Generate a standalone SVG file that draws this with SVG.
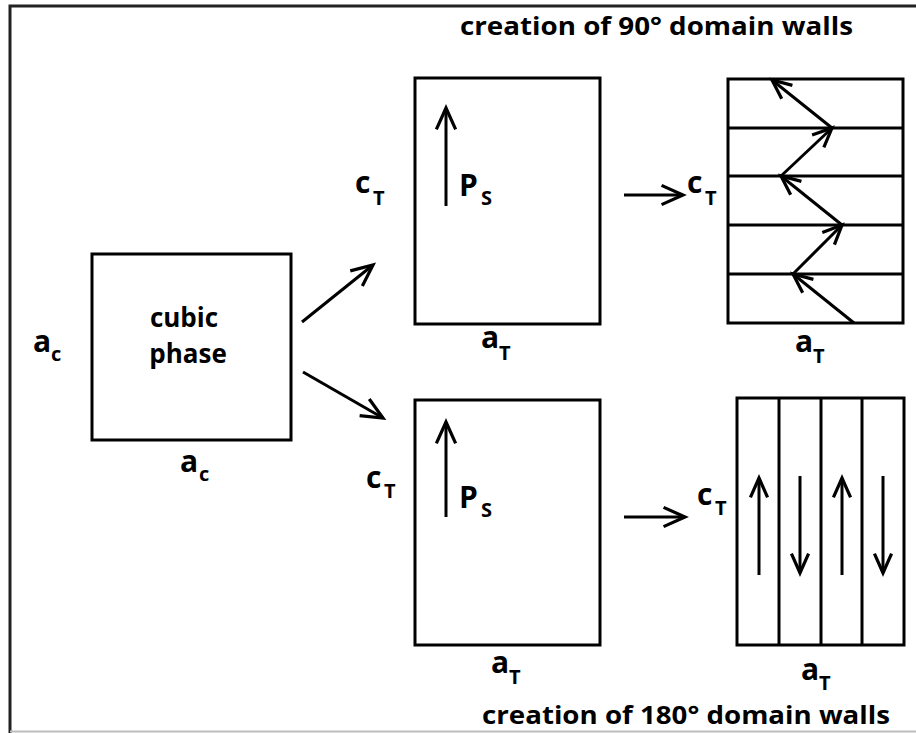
<svg xmlns="http://www.w3.org/2000/svg" width="916" height="733" viewBox="0 0 916 733">
<defs>
<marker id="ah" markerUnits="userSpaceOnUse" markerWidth="30" markerHeight="30" viewBox="-24 -12 28 24" refX="0" refY="0" orient="auto">
<path d="M-20,-9 L0,0 L-20,9" fill="none" stroke="#000" stroke-width="3" stroke-linejoin="miter"/>
</marker>
<marker id="ahs" markerUnits="userSpaceOnUse" markerWidth="30" markerHeight="30" viewBox="-24 -12 28 24" refX="0" refY="0" orient="auto">
<path d="M-18,-8 L0,0 L-18,8" fill="none" stroke="#000" stroke-width="3" stroke-linejoin="miter"/>
</marker>
</defs>
<style>
.box{fill:#fff;stroke:#000;stroke-width:3}
.ln{stroke:#000;stroke-width:3;fill:none}
.arr{stroke:#000;stroke-width:3;fill:none;marker-end:url(#ah)}
.arrs{stroke:#000;stroke-width:3;fill:none;marker-end:url(#ahs)}
text{font-family:"Open Sans","Liberation Sans",sans-serif;font-weight:bold;fill:#000}
.lb{font-size:30px}
.sb{font-size:20px}
.tt{font-size:25px}
.cp{font-size:26px}
</style>
<rect width="916" height="733" fill="#fff"/>
<g id="frame">
<path d="M10,733 L10,6 L916,6" fill="none" stroke="#222" stroke-width="3"/>
<line x1="10" y1="731.5" x2="916" y2="731.5" stroke="#bdbdbd" stroke-width="2"/>
</g>
<g id="title-top"><text class="tt" x="460" y="35" textLength="393" lengthAdjust="spacingAndGlyphs">creation of 90° domain walls</text></g>
<g id="title-bottom"><text class="tt" x="482" y="724" textLength="408" lengthAdjust="spacingAndGlyphs">creation of 180° domain walls</text></g>

<g id="cubic">
<rect class="box" x="92" y="254" width="199" height="186"/>
<text class="cp" x="184" y="327" text-anchor="middle">cubic</text>
<text class="cp" x="188" y="363" text-anchor="middle">phase</text>
<text class="lb" x="33" y="352">a</text><text class="sb" x="51" y="361">c</text>
<text class="lb" x="180" y="472">a</text><text class="sb" x="199" y="481">c</text>
</g>

<g id="tetra-top">
<rect class="box" x="415" y="78" width="185" height="246"/>
<line class="arr" x1="446" y1="206" x2="446" y2="108"/>
<text class="lb" x="459" y="196">P</text><text class="sb" x="481" y="205">S</text>
<text class="lb" x="355" y="193">c</text><text class="sb" x="373" y="205">T</text>
<text class="lb" x="481" y="348">a</text><text class="sb" x="499" y="360">T</text>
</g>

<g id="tetra-bottom">
<rect class="box" x="415" y="400" width="185" height="245"/>
<line class="arr" x1="446" y1="517" x2="446" y2="422"/>
<text class="lb" x="459" y="508">P</text><text class="sb" x="481" y="517">S</text>
<text class="lb" x="366" y="488">c</text><text class="sb" x="384" y="498">T</text>
<text class="lb" x="491" y="673">a</text><text class="sb" x="509" y="684">T</text>
</g>

<g id="domains-90">
<rect class="box" x="728" y="79" width="175" height="244"/>
<line class="ln" x1="728" y1="128" x2="903" y2="128"/>
<line class="ln" x1="728" y1="176" x2="903" y2="176"/>
<line class="ln" x1="728" y1="225" x2="903" y2="225"/>
<line class="ln" x1="728" y1="274" x2="903" y2="274"/>
<line class="arrs" x1="854" y1="323" x2="793" y2="274"/>
<line class="arrs" x1="793" y1="274" x2="842" y2="225"/>
<line class="arrs" x1="842" y1="225" x2="781" y2="176"/>
<line class="arrs" x1="781" y1="176" x2="832" y2="128"/>
<line class="arrs" x1="832" y1="128" x2="772" y2="80"/>
<text class="lb" x="687" y="193">c</text><text class="sb" x="705" y="205">T</text>
<text class="lb" x="795" y="352">a</text><text class="sb" x="813" y="363">T</text>
</g>

<g id="domains-180">
<rect class="box" x="737" y="398" width="167" height="247"/>
<line class="ln" x1="779" y1="398" x2="779" y2="645"/>
<line class="ln" x1="821" y1="398" x2="821" y2="645"/>
<line class="ln" x1="862" y1="398" x2="862" y2="645"/>
<line class="arrs" x1="759" y1="575" x2="759" y2="478"/>
<line class="arrs" x1="800" y1="476" x2="800" y2="573"/>
<line class="arrs" x1="842" y1="575" x2="842" y2="478"/>
<line class="arrs" x1="883" y1="476" x2="883" y2="573"/>
<text class="lb" x="697" y="505">c</text><text class="sb" x="715" y="515">T</text>
<text class="lb" x="801" y="680">a</text><text class="sb" x="819" y="690">T</text>
</g>

<g id="connectors">
<line class="arr" x1="302" y1="322" x2="373" y2="265"/>
<line class="arr" x1="303" y1="372" x2="383" y2="418"/>
<line class="arr" x1="624" y1="195" x2="683" y2="195"/>
<line class="arr" x1="624" y1="517" x2="685" y2="517"/>
</g>
</svg>
